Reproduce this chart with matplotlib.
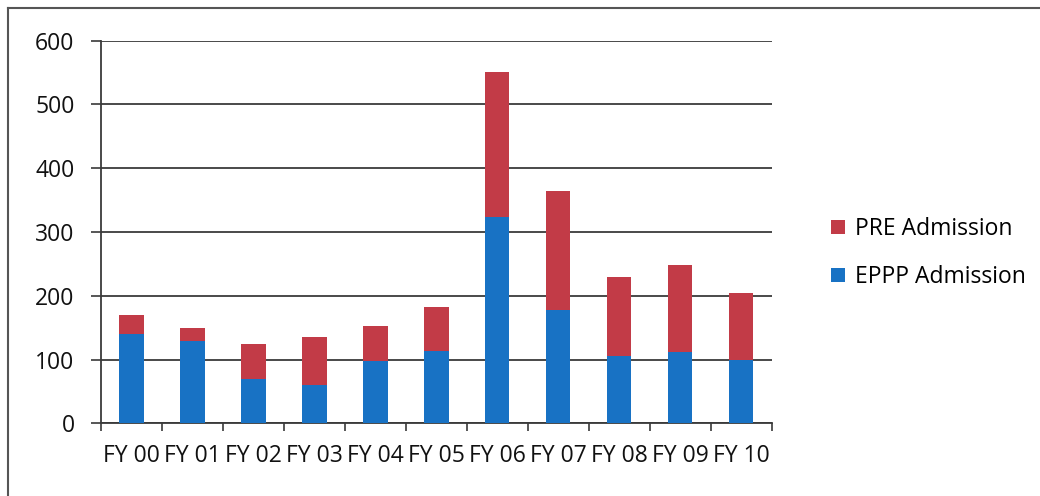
import matplotlib
matplotlib.use('Agg')
import matplotlib.pyplot as plt
from matplotlib.lines import Line2D
import numpy as np

years = ["FY 00", "FY 01", "FY 02", "FY 03", "FY 04", "FY 05",
         "FY 06", "FY 07", "FY 08", "FY 09", "FY 10"]
eppp = [140, 129, 69, 60, 98, 113, 324, 178, 106, 112, 99]
totals = [170, 150, 124, 135, 153, 183, 551, 365, 230, 249, 204]
pre = [t - e for t, e in zip(totals, eppp)]

blue = '#1872C4'
red = '#C23B47'
grid_c = '#3a3a3a'

plt.rcParams['font.family'] = ['Open Sans', 'DejaVu Sans']

fig = plt.figure(figsize=(10.4, 4.96), dpi=100)
ax = fig.add_axes([0.0971, 0.1466, 0.6449, 0.7713])

x = np.arange(len(years))
ax.bar(x, eppp, 0.4, color=blue, label='EPPP Admission', zorder=3)
ax.bar(x, pre, 0.4, bottom=eppp, color=red, label='PRE Admission', zorder=3)

ax.set_xlim(-0.5, len(years) - 0.5)
ax.set_ylim(0, 600)
ax.set_yticks(range(0, 601, 100))
ax.yaxis.grid(True, color=grid_c, linewidth=1.3, zorder=0)
ax.set_axisbelow(True)

ax.set_xticks(x)
ax.set_xticklabels(years)
ax.set_xticks(np.arange(-0.5, len(years), 1), minor=True)
ax.tick_params(axis='x', which='major', length=0, pad=15, labelsize=16.5, labelcolor='#111111')
ax.tick_params(axis='x', which='minor', length=6, width=1.2, color=grid_c, direction='out')
ax.tick_params(axis='y', length=7, width=1.2, color=grid_c, pad=12, labelsize=16.5, labelcolor='#111111')

for s in ['top', 'right']:
    ax.spines[s].set_visible(False)
for s in ['left', 'bottom']:
    ax.spines[s].set_color(grid_c)
    ax.spines[s].set_linewidth(1.3)

handles, labels = ax.get_legend_handles_labels()
fig.legend(handles[::-1], labels[::-1], loc='center left',
           bbox_to_anchor=(0.799, 0.49), frameon=False, fontsize=16.5,
           handlelength=0.6, handleheight=0.6, handletextpad=0.45,
           labelspacing=1.05, borderpad=0, borderaxespad=0)

# outer chart frame (top and left edges visible in the scan)
fig.add_artist(Line2D([0.008, 1.0], [0.983, 0.983], transform=fig.transFigure,
                      color='#555555', linewidth=1.5))
fig.add_artist(Line2D([0.008, 0.008], [0.0, 0.983], transform=fig.transFigure,
                      color='#555555', linewidth=1.5))

fig.savefig('out.png', dpi=100)
